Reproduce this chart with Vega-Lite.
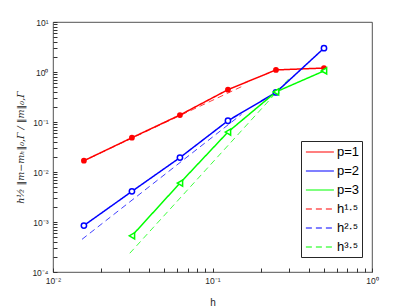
{
  "$schema": "https://vega.github.io/schema/vega-lite/v6.json",
  "width": 319,
  "height": 250,
  "autosize": {"type": "none"},
  "padding": {"left": 53, "top": 22, "right": 39, "bottom": 36},
  "config": {
    "view": {"stroke": "#262626", "strokeWidth": 0.8},
    "font": "Liberation Sans",
    "axis": {"grid": false, "labelColor": "#262626", "labelFont": "Liberation Sans", "labelFontSize": 8.5, "titleColor": "#262626", "titleFontWeight": "normal"}
  },
  "datasets": {
    "sims": [
      {"h": 0.015625, "err": 0.0168, "series": "p=1"},
      {"h": 0.03125, "err": 0.0485, "series": "p=1"},
      {"h": 0.0625, "err": 0.138, "series": "p=1"},
      {"h": 0.125, "err": 0.443, "series": "p=1"},
      {"h": 0.25, "err": 1.10, "series": "p=1"},
      {"h": 0.5, "err": 1.20, "series": "p=1"},
      {"h": 0.015625, "err": 0.00085, "series": "p=2"},
      {"h": 0.03125, "err": 0.0041, "series": "p=2"},
      {"h": 0.0625, "err": 0.0194, "series": "p=2"},
      {"h": 0.125, "err": 0.106, "series": "p=2"},
      {"h": 0.25, "err": 0.39, "series": "p=2"},
      {"h": 0.5, "err": 3.0, "series": "p=2"},
      {"h": 0.03125, "err": 0.00053, "series": "p=3"},
      {"h": 0.0625, "err": 0.0060, "series": "p=3"},
      {"h": 0.125, "err": 0.063, "series": "p=3"},
      {"h": 0.25, "err": 0.40, "series": "p=3"},
      {"h": 0.5, "err": 1.05, "series": "p=3"}
    ],
    "refs": [
      {"h": 0.0152, "err": 0.0161, "series": "h^1.5"},
      {"h": 0.152, "err": 0.509, "series": "h^1.5"},
      {"h": 0.0152, "err": 0.00045, "series": "h^2.5"},
      {"h": 0.152, "err": 0.1423, "series": "h^2.5"},
      {"h": 0.0303, "err": 0.000237, "series": "h^3.5"},
      {"h": 0.303, "err": 0.75, "series": "h^3.5"}
    ]
  },
  "layer": [
    {
      "data": {"name": "refs"},
      "mark": {"type": "line", "strokeWidth": 0.75},
      "encoding": {
        "x": {"field": "h", "type": "quantitative", "scale": {"type": "log", "domain": [0.01, 1], "nice": false},
          "axis": {"title": "h", "titleFontSize": 10, "titlePadding": 13, "labelPadding": 4, "labelFlush": false, "labelOverlap": false,
            "domain": false, "ticks": true, "tickSize": 4, "tickColor": "#333333", "tickWidth": 1, "offset": -4,
            "values": [0.01,0.02,0.03,0.04,0.05,0.06,0.07,0.08,0.09,0.1,0.2,0.3,0.4,0.5,0.6,0.7,0.8,0.9,1],
            "labelExpr": "abs(log(datum.value)/LN10 - round(log(datum.value)/LN10)) < 0.001 ? '10' + (round(log(datum.value)/LN10) < 0 ? '⁻' : '') + ['⁰','¹','²','³','⁴'][abs(round(log(datum.value)/LN10))] : ''"}},
        "y": {"field": "err", "type": "quantitative", "scale": {"type": "log", "domain": [0.0001, 10], "nice": false},
          "axis": {"title": "h½ ‖m−mₕ‖₀,Γ / ‖m‖₀,Γ", "titleFont": "DejaVu Serif", "titleFontStyle": "italic", "titleFontSize": 9.5, "titlePadding": 6, "labelPadding": 5, "labelFlush": false, "labelOverlap": false,
            "domain": false, "ticks": true, "tickSize": 4, "tickColor": "#333333", "tickWidth": 1, "offset": -4,
            "values": [0.0001,0.0002,0.0003,0.0004,0.0005,0.0006,0.0007,0.0008,0.0009,0.001,0.002,0.003,0.004,0.005,0.006,0.007,0.008,0.009,0.01,0.02,0.03,0.04,0.05,0.06,0.07,0.08,0.09,0.1,0.2,0.3,0.4,0.5,0.6,0.7,0.8,0.9,1,2,3,4,5,6,7,8,9,10],
            "labelExpr": "abs(log(datum.value)/LN10 - round(log(datum.value)/LN10)) < 0.001 ? '10' + (round(log(datum.value)/LN10) < 0 ? '⁻' : '') + ['⁰','¹','²','³','⁴'][abs(round(log(datum.value)/LN10))] : ''"}},
        "strokeDash": {"field": "series", "type": "nominal",
          "scale": {"domain": ["p=1", "p=2", "p=3", "h^1.5", "h^2.5", "h^3.5"], "range": [[1, 0], [1, 0], [1, 0], [6, 4], [6, 4], [6, 4]]}},
        "color": {"field": "series", "type": "nominal",
          "scale": {"domain": ["p=1", "p=2", "p=3", "h^1.5", "h^2.5", "h^3.5"], "range": ["#ff0000", "#0000ff", "#00ff00", "#ff0000", "#0000ff", "#00ff00"]},
          "legend": {
            "title": null, "orient": "none", "legendX": 248, "legendY": 119,
            "symbolType": "M-1.98,0H1.98",
            "symbolSize": 200, "symbolStrokeWidth": 1.2, "symbolOffset": 7.9, "labelOffset": 9,
            "padding": 3, "rowPadding": 4,
            "strokeColor": "#262626", "fillColor": "white",
            "labelFont": "Liberation Sans", "labelFontSize": 13, "labelColor": "black",
            "labelExpr": "(datum.label == 'h^1.5' ? 'h¹·⁵' : datum.label == 'h^2.5' ? 'h²·⁵' : datum.label == 'h^3.5' ? 'h³·⁵' : datum.label) + '\u00a0\u00a0\u00a0'"
          }}
      }
    },
    {
      "data": {"name": "sims"},
      "mark": {"type": "line", "strokeWidth": 1.5},
      "encoding": {
        "x": {"field": "h", "type": "quantitative"},
        "y": {"field": "err", "type": "quantitative"},
        "color": {"field": "series", "type": "nominal"},
        "strokeDash": {"field": "series", "type": "nominal"}
      }
    },
    {
      "data": {"name": "sims"},
      "mark": {"type": "point", "filled": false, "strokeWidth": 1.5, "opacity": 1},
      "encoding": {
        "x": {"field": "h", "type": "quantitative"},
        "y": {"field": "err", "type": "quantitative"},
        "stroke": {"field": "series", "type": "nominal", "scale": {"domain": ["p=1", "p=2", "p=3"], "range": ["#ff0000", "#0000ff", "#00ff00"]}, "legend": null},
        "fill": {"field": "series", "type": "nominal", "scale": {"domain": ["p=1", "p=2", "p=3"], "range": ["#ff0000", "#ffffff", "#ffffff"]}, "legend": null},
        "shape": {"field": "series", "type": "nominal", "scale": {"domain": ["p=1", "p=2", "p=3"], "range": ["circle", "circle", "triangle-left"]}, "legend": null},
        "size": {"field": "series", "type": "nominal", "scale": {"domain": ["p=1", "p=2", "p=3"], "range": [18, 38, 45]}, "legend": null}
      }
    }
  ]
}
